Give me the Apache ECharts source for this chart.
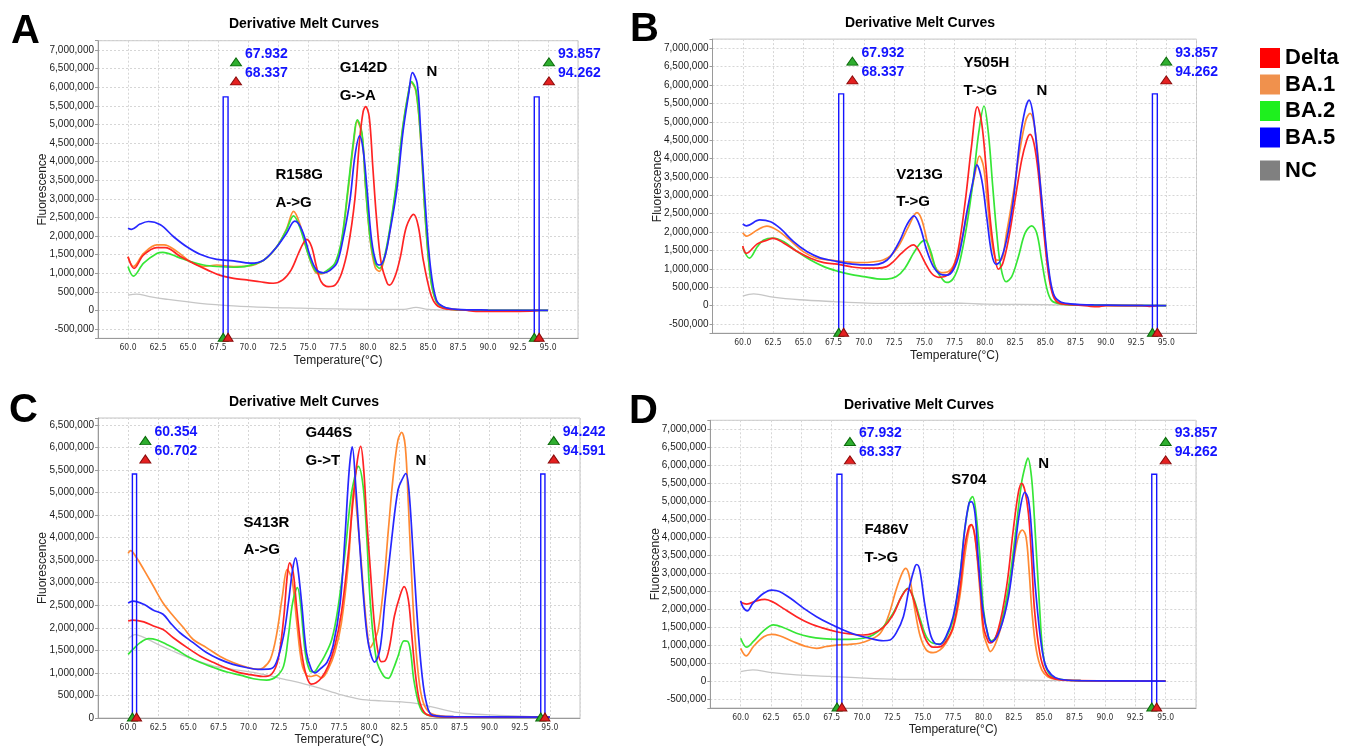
<!DOCTYPE html>
<html><head><meta charset="utf-8">
<script src="https://cdn.jsdelivr.net/npm/echarts@6/dist/echarts.min.js"></script>
<style>html,body{margin:0;padding:0;background:#fff}#c{width:1347px;height:747px}</style>
</head><body><div id="c"></div>
<script>
// ---------- DATA (fluorescence in millions vs temperature °C) ----------
const seriesNames = ['Delta', 'BA.1', 'BA.2', 'BA.5', 'NC'];

// Panel A
const A_Delta = [[60,1.44],[60.5,1.13],[61.3,1.49],[62.4,1.69],[63.1,1.69],[64.4,1.44],[65.6,1.24],[66.6,1.09],[67.7,0.94],[68.8,0.86],[69.9,0.82],[71,0.77],[72.1,0.73],[72.9,0.82],[73.6,1.09],[74.2,1.53],[74.6,1.80],[74.9,1.91],[75.3,1.71],[75.7,1.18],[76.1,0.77],[76.7,0.64],[77.25,0.68],[77.8,1.0],[78.35,1.71],[78.9,2.97],[79.3,4.58],[79.6,5.35],[79.8,5.48],[80.1,5.21],[80.4,3.86],[80.7,2.52],[81.1,1.27],[81.6,0.73],[81.8,0.68],[82.25,0.91],[82.7,1.44],[83.2,2.25],[83.8,2.58],[84.2,2.25],[84.6,1.36],[85.2,0.47],[85.7,0.15],[86.5,0.04],[88,0.01],[89,-0.03],[93.5,-0.02],[94.2,0.0]];
const A_BA1 = [[60,1.44],[60.45,1.18],[61.3,1.53],[62.4,1.76],[63,1.76],[64.1,1.58],[65.2,1.31],[66.3,1.18],[67.4,1.22],[68.8,1.18],[69.9,1.19],[71.3,1.35],[72.4,1.71],[73.2,2.18],[73.8,2.66],[74.3,2.34],[75.0,1.53],[75.6,1.04],[76.1,0.98],[76.7,1.08],[77.25,1.25],[77.8,1.85],[78.35,3.25],[78.8,4.5],[79.1,5.08],[79.5,4.72],[79.8,3.3],[80.2,1.85],[80.6,1.15],[80.95,1.05],[81.3,1.30],[81.8,2.10],[82.4,3.45],[82.9,4.9],[83.4,5.9],[83.6,6.12],[84.0,5.88],[84.4,4.55],[84.75,2.6],[85.2,0.9],[85.7,0.22],[86.5,0.05],[88,0.01],[95,0.0]];
const A_BA2 = [[60,1.18],[60.45,0.92],[61.3,1.27],[62.4,1.53],[62.9,1.56],[64.1,1.44],[65.2,1.31],[66.3,1.22],[67.4,1.18],[68.8,1.16],[69.9,1.19],[71.3,1.35],[72.4,1.71],[73.2,2.16],[73.8,2.54],[74.3,2.25],[75.0,1.53],[75.6,1.07],[76.1,1.0],[76.7,1.10],[77.25,1.27],[77.8,1.89],[78.35,3.33],[78.8,4.58],[79.1,5.12],[79.5,4.76],[79.8,3.33],[80.2,1.89],[80.6,1.27],[80.95,1.13],[81.3,1.35],[81.8,2.16],[82.4,3.51],[82.9,4.94],[83.4,5.92],[83.6,6.15],[84.0,5.92],[84.4,4.58],[84.75,2.61],[85.2,0.91],[85.7,0.24],[86.5,0.06],[88,0.01],[95,0.0]];
const A_BA5 = [[60,2.21],[60.3,2.18],[61,2.32],[61.7,2.39],[62.7,2.30],[63.8,1.98],[64.9,1.71],[66,1.51],[67.4,1.37],[68.8,1.33],[70.2,1.27],[71.3,1.35],[72.4,1.71],[73.2,2.07],[73.9,2.40],[74.5,2.16],[75.2,1.44],[75.7,1.09],[76.3,1.01],[76.8,1.07],[77.4,1.27],[77.9,1.89],[78.5,2.97],[78.9,4.13],[79.3,4.69],[79.6,4.31],[79.9,3.33],[80.3,1.89],[80.7,1.27],[81.0,1.22],[81.4,1.44],[81.8,2.07],[82.4,3.24],[82.9,4.76],[83.4,5.84],[83.7,6.39],[84.1,6.10],[84.4,4.76],[84.75,2.97],[85.2,1.18],[85.7,0.28],[86.3,0.10],[87.4,0.03],[90,0.01],[95,0.0]];
const A_NC = [[60,0.41],[60.7,0.44],[61.8,0.37],[63.2,0.30],[66,0.19],[68.8,0.12],[71.6,0.08],[74.4,0.06],[77.2,0.04],[80,0.03],[83,0.03],[84,0.08],[85,0.03],[88,0.01],[95,0.0]];

// Panel B
const B_Delta = [[60,1.62],[60.3,1.42],[61.2,1.68],[62,1.78],[62.5,1.83],[63.4,1.70],[64.5,1.47],[65.6,1.29],[66.7,1.17],[67.8,1.13],[68.9,1.06],[70,1.02],[71.1,1.02],[71.9,1.06],[72.45,1.20],[73.1,1.42],[73.7,1.59],[74.1,1.65],[74.5,1.53],[75.1,1.15],[75.6,0.88],[76.2,0.77],[76.7,0.79],[77.3,0.97],[77.8,1.51],[78.4,2.87],[78.9,4.32],[79.39,5.41],[79.75,4.96],[80.1,3.78],[80.43,2.42],[80.8,1.42],[81.13,0.99],[81.49,1.15],[81.95,1.78],[82.5,2.87],[83.05,3.96],[83.47,4.50],[83.74,4.66],[84.07,4.41],[84.43,3.60],[84.84,2.15],[85.26,0.88],[85.67,0.25],[86.2,0.06],[87.5,0.02],[88.5,-0.01],[89.3,-0.03],[90,0.0],[93,0.0],[93.6,-0.02],[94.2,0.0]];
const B_BA1 = [[60,1.98],[60.3,1.89],[61.2,2.06],[62,2.16],[62.8,2.06],[63.9,1.78],[65,1.47],[66.1,1.29],[67.2,1.24],[68.3,1.20],[69.4,1.17],[70.5,1.18],[71.6,1.24],[72.3,1.38],[73,1.69],[73.7,2.15],[74.4,2.53],[74.8,2.33],[75.35,1.60],[75.9,1.06],[76.4,0.90],[77,0.93],[77.5,1.15],[78.1,1.78],[78.65,2.69],[79.2,3.60],[79.56,4.07],[79.9,3.78],[80.2,2.87],[80.57,1.78],[80.99,1.24],[81.32,1.24],[81.8,1.97],[82.36,3.05],[82.9,4.23],[83.4,5.05],[83.74,5.23],[84.07,4.96],[84.43,3.96],[84.84,2.33],[85.26,0.97],[85.67,0.29],[86.2,0.08],[88,0.02],[95,0.0]];
const B_BA2 = [[60,1.58],[60.55,1.29],[61.2,1.60],[61.7,1.78],[62.5,1.84],[63.4,1.74],[64.5,1.47],[65.6,1.24],[66.7,1.06],[67.8,0.94],[68.9,0.85],[70,0.79],[71.1,0.73],[71.9,0.72],[72.7,0.79],[73.4,1.02],[74.1,1.42],[74.65,1.69],[75.05,1.78],[75.5,1.51],[76,0.97],[76.6,0.68],[76.85,0.63],[77.4,0.74],[77.9,1.15],[78.5,2.15],[79.05,3.42],[79.5,4.7],[79.94,5.43],[80.3,4.69],[80.66,3.24],[80.99,1.97],[81.32,1.06],[81.76,0.65],[82.23,0.79],[82.78,1.33],[83.33,1.97],[83.88,2.17],[84.3,1.97],[84.7,1.24],[85.1,0.51],[85.5,0.15],[86.2,0.05],[88,0.02],[95,0.0]];
const B_BA5 = [[60,2.22],[60.3,2.17],[61.4,2.33],[62.3,2.28],[63.1,2.10],[64.2,1.74],[65.3,1.47],[66.4,1.30],[67.5,1.22],[68.6,1.15],[69.7,1.11],[70.8,1.11],[71.6,1.17],[72.2,1.33],[73,1.78],[73.55,2.19],[74.15,2.44],[74.65,2.15],[75.2,1.51],[75.75,1.06],[76.3,0.86],[76.85,0.83],[77.4,0.97],[77.9,1.42],[78.5,2.51],[79.05,3.42],[79.34,3.83],[79.75,3.42],[80.16,2.42],[80.57,1.42],[80.93,1.12],[81.26,1.20],[81.8,1.78],[82.36,2.87],[82.9,4.50],[83.33,5.32],[83.66,5.59],[84.0,5.18],[84.4,3.96],[84.84,2.42],[85.26,1.06],[85.67,0.33],[86.2,0.11],[87.05,0.05],[89,0.02],[95,0.0]];
const B_NC = [[60,0.26],[60.9,0.32],[62.5,0.23],[64.7,0.16],[67.5,0.11],[70.3,0.07],[73,0.06],[78,0.07],[80,0.04],[85,0.03],[88,0.01],[95,0.0]];

// Panel C
const C_Delta = [[60,2.15],[60.4,2.17],[61.3,2.13],[62.1,2.04],[62.9,1.96],[63.75,1.78],[64.9,1.56],[66,1.37],[67.1,1.23],[68.2,1.10],[69.3,1.00],[70.4,0.95],[71.2,0.92],[71.9,0.97],[72.45,1.30],[72.9,2.19],[73.2,3.14],[73.4,3.44],[73.7,3.22],[74,2.41],[74.4,1.45],[74.8,0.93],[75.2,0.75],[75.6,0.78],[76.05,0.89],[76.6,1.15],[77.15,1.59],[77.7,2.33],[78.25,3.59],[78.65,4.77],[79,5.66],[79.3,6.02],[79.55,5.51],[79.8,4.40],[80.1,3.29],[80.4,2.19],[80.7,1.52],[81,1.25],[81.3,1.26],[81.7,1.59],[82.1,2.26],[82.55,2.70],[82.9,2.91],[83.25,2.63],[83.5,1.96],[83.8,1.08],[84.15,0.41],[84.6,0.12],[85.3,0.04],[87,0.02],[95,0.02]];
const C_BA1 = [[60,3.65],[60.2,3.71],[60.7,3.55],[61.3,3.29],[62.1,2.92],[62.9,2.55],[63.75,2.26],[64.6,2.00],[65.4,1.74],[66.5,1.56],[67.6,1.37],[68.7,1.23],[69.8,1.13],[70.7,1.08],[71.2,1.11],[71.8,1.30],[72.3,1.82],[72.8,2.70],[73.2,3.29],[73.6,3.07],[74,2.11],[74.4,1.23],[74.8,0.95],[75.2,0.92],[75.6,0.95],[76.05,0.89],[76.6,1.08],[77.15,1.45],[77.7,2.11],[78.3,3.5],[78.55,4.6],[78.75,5.1],[79.0,4.5],[79.3,3.6],[79.6,2.6],[79.85,1.9],[80.07,1.56],[80.4,1.7],[80.75,1.96],[81.2,2.92],[81.6,4.18],[82.0,5.36],[82.4,6.17],[82.7,6.33],[83.0,6.02],[83.25,4.77],[83.5,3.29],[83.8,1.82],[84.2,0.71],[84.6,0.27],[85.3,0.08],[87,0.03],[95,0.02]];
const C_BA2 = [[60,1.41],[60.4,1.52],[61,1.67],[61.7,1.76],[62.4,1.73],[63.2,1.63],[64,1.52],[64.9,1.37],[66,1.23],[67.1,1.12],[68.2,1.02],[69.3,0.95],[70.4,0.87],[71.5,0.84],[72.3,0.92],[72.9,1.15],[73.3,1.82],[73.65,2.55],[74.05,2.89],[74.3,2.55],[74.7,1.45],[75.1,1.04],[75.4,1.02],[75.8,1.15],[76.3,1.37],[76.9,1.74],[77.4,2.41],[78,3.66],[78.5,4.92],[78.95,5.51],[79.1,5.58],[79.5,5.14],[79.8,4.03],[80.1,2.55],[80.6,1.30],[81.2,0.93],[81.6,0.88],[82,1.08],[82.4,1.37],[82.9,1.71],[83.2,1.70],[83.45,1.45],[83.7,0.86],[84.1,0.34],[84.5,0.12],[85.3,0.04],[87,0.02],[95,0.02]];
const C_BA5 = [[60,2.55],[60.4,2.59],[61.3,2.52],[62.1,2.39],[62.9,2.30],[63.5,2.11],[64.3,1.89],[65.4,1.67],[66.5,1.45],[67.6,1.30],[68.7,1.19],[69.8,1.12],[70.8,1.08],[71.8,1.09],[72.3,1.23],[72.9,1.82],[73.3,2.55],[73.65,3.29],[73.9,3.55],[74.1,3.29],[74.4,2.55],[74.8,1.45],[75.2,1.08],[75.5,1.00],[75.9,1.08],[76.5,1.23],[77,1.59],[77.6,2.55],[78,4.03],[78.35,5.51],[78.6,6.01],[78.9,5.1],[79.2,3.9],[79.5,2.8],[79.8,1.9],[80.1,1.45],[80.45,1.24],[80.9,1.52],[81.3,2.55],[81.9,4.03],[82.4,5.06],[82.8,5.32],[83.05,5.42],[83.3,5.06],[83.65,3.66],[84.1,1.82],[84.5,0.71],[84.9,0.19],[85.3,0.06],[87,0.03],[95,0.02]];
const C_NC = [[60,1.76],[60.6,1.85],[61.5,1.76],[62.65,1.61],[63.75,1.48],[65.4,1.30],[67.1,1.15],[68.7,1.08],[70.4,1.01],[71.5,0.95],[72.9,0.86],[74.3,0.78],[75.9,0.66],[77.6,0.52],[79.2,0.42],[81,0.38],[82.5,0.36],[84,0.32],[85.3,0.24],[86.6,0.16],[88,0.10],[90.8,0.06],[93.5,0.03],[95,0.02]];

// Panel D
const D_Delta = [[60,2.19],[60.5,2.14],[61.3,2.23],[62,2.27],[62.7,2.19],[63.5,2.02],[64.6,1.79],[65.7,1.60],[66.8,1.47],[67.9,1.37],[69,1.31],[70.1,1.28],[70.9,1.33],[71.75,1.49],[72.55,1.84],[73.25,2.35],[73.8,2.57],[74.25,2.26],[74.8,1.60],[75.3,1.12],[75.85,0.94],[76.4,0.95],[76.9,1.10],[77.5,1.51],[78.05,2.53],[78.45,3.74],[78.8,4.29],[79,4.35],[79.3,4.01],[79.7,2.72],[80,1.51],[80.4,1.09],[80.6,1.06],[81.2,1.42],[81.9,2.62],[82.45,4.20],[82.86,5.22],[83.13,5.50],[83.4,5.31],[83.7,4.66],[83.95,3.46],[84.2,1.98],[84.64,0.77],[85.1,0.26],[85.7,0.08],[87,0.02],[95,0.0]];
const D_BA1 = [[60,0.91],[60.45,0.70],[61.05,0.96],[61.9,1.23],[62.55,1.30],[63.2,1.26],[64.3,1.10],[65.4,0.96],[66.25,0.91],[67.05,0.96],[67.9,1.0],[69,1.02],[69.8,1.05],[70.6,1.14],[71.5,1.33],[72.15,1.79],[72.8,2.53],[73.3,3.0],[73.6,3.13],[73.9,2.90],[74.35,1.98],[74.8,1.23],[75.3,0.86],[75.85,0.79],[76.4,0.86],[76.9,1.05],[77.5,1.47],[78.05,2.35],[78.45,3.46],[78.8,4.20],[79,4.34],[79.3,4.01],[79.7,2.53],[80,1.33],[80.4,0.91],[80.55,0.82],[81.2,1.23],[81.9,2.16],[82.45,3.27],[82.86,4.01],[83.2,4.20],[83.5,4.01],[83.75,3.09],[84,1.88],[84.35,0.86],[84.8,0.31],[85.3,0.12],[86,0.05],[88,0.01],[95,0.0]];
const D_BA2 = [[60,1.19],[60.5,0.94],[61.05,1.10],[61.9,1.40],[62.7,1.56],[63.5,1.49],[64.6,1.33],[65.7,1.23],[66.8,1.18],[67.9,1.16],[69,1.16],[70.1,1.19],[70.9,1.28],[71.75,1.51],[72.55,1.88],[73.25,2.35],[73.75,2.58],[74.2,2.35],[74.8,1.70],[75.3,1.23],[75.85,1.05],[76.4,1.03],[76.9,1.19],[77.5,1.70],[78.05,2.90],[78.45,4.20],[78.85,4.99],[79.1,5.13],[79.35,4.76],[79.7,3.46],[80,1.98],[80.4,1.23],[80.66,1.12],[81.35,1.51],[82.06,2.62],[82.6,4.01],[83.13,5.50],[83.45,6.0],[83.65,6.2],[83.95,5.68],[84.2,4.48],[84.6,2.16],[84.9,0.77],[85.3,0.26],[86,0.07],[88,0.01],[95,0.0]];
const D_BA5 = [[60,2.23],[60.2,2.05],[60.55,1.95],[61,2.16],[61.9,2.44],[62.55,2.53],[63.2,2.49],[64.1,2.30],[65.2,2.02],[66.25,1.79],[67.35,1.59],[68.45,1.42],[69.55,1.28],[70.6,1.19],[71.75,1.12],[72.3,1.14],[72.8,1.33],[73.4,1.79],[73.9,2.62],[74.35,3.18],[74.5,3.24],[74.75,3.09],[75.15,2.16],[75.6,1.33],[76,1.05],[76.4,1.02],[76.9,1.23],[77.5,1.79],[78.05,2.90],[78.45,4.20],[78.8,4.94],[79,4.99],[79.3,4.66],[79.55,3.46],[79.95,1.98],[80.4,1.23],[80.66,1.09],[81.35,1.42],[82.06,2.35],[82.6,3.74],[83,4.76],[83.4,5.25],[83.7,5.04],[83.95,4.20],[84.2,2.90],[84.64,1.33],[85.05,0.49],[85.6,0.17],[86.3,0.05],[88,0.01],[95,0.0]];
const D_NC = [[60,0.26],[61,0.31],[62.4,0.24],[64.6,0.17],[67.35,0.13],[70.1,0.08],[72.8,0.05],[80,0.04],[85,0.02],[95,0.0]];

// Melt-region markers (start / end temperatures shown by the software)
const A_regions = [['67.932', '68.337'], ['93.857', '94.262']];
const B_regions = [['67.932', '68.337'], ['93.857', '94.262']];
const C_regions = [['60.354', '60.702'], ['94.242', '94.591']];
const D_regions = [['67.932', '68.337'], ['93.857', '94.262']];
// marker bar height (millions) and handle positions (temperature, millions)
const A_barTop = 5.74, B_barTop = 5.76, C_barTop = 5.41, D_barTop = 5.75;
const A_handleT = [69.0, 95.08], B_handleT = [69.06, 95.0], C_handleT = [61.43, 95.32], D_handleT = [69.0, 95.0];
const A_handleV = [6.68, 6.17], B_handleV = [6.65, 6.14], C_handleV = [6.15, 5.74], D_handleV = [6.66, 6.15];

// Annotations: [text, temperature, millions]
const A_notes = [['R158G',72.25,3.64],['A->G',72.25,2.89],['G142D',77.6,6.52],['G->A',77.6,5.76],['N',84.83,6.41]];
const B_notes = [['V213G',72.64,3.55],['T->G',72.64,2.82],['Y505H',78.2,6.60],['T->G',78.2,5.84],['N',84.24,5.84]];
const C_notes = [['S413R',69.54,4.32],['A->G',69.54,3.72],['G446S',74.68,6.32],['G->T',74.68,5.71],['N',83.8,5.69]];
const D_notes = [['F486V',70.15,4.20],['T->G',70.15,3.43],['S704',77.31,5.59],['N',84.47,6.04]];

const panelLetters = ['A', 'B', 'C', 'D'];
const chartTitle = 'Derivative Melt Curves';
const xTickRange = [60, 95];

// ---------- STYLE / LAYOUT ----------
const FONT = "'Liberation Sans', Arial, Helvetica, sans-serif";
const NARROW = "'Liberation Sans Narrow', 'DejaVu Sans Condensed', 'Liberation Sans', sans-serif";
const lineColor = {'Delta':'#ff2424','BA.1':'#ff8a33','BA.2':'#36e636','BA.5':'#2727ff','NC':'#c6c6c6'};
const legendColor = {'Delta':'#ff0000','BA.1':'#f0914d','BA.2':'#1ef01e','BA.5':'#0000ff','NC':'#808080'};
const GREEN = '#2fae2f', RED = '#e42020', MARK_BLUE = '#1414ff';

const panels = [
  {grid:{left:98, top:40.7, width:480, height:297.6}, yMin:-0.75, yMax:7.25, split:16,
   curves:{'Delta':A_Delta,'BA.1':A_BA1,'BA.2':A_BA2,'BA.5':A_BA5,'NC':A_NC},
   regions:A_regions, barTop:A_barTop, handleT:A_handleT, handleV:A_handleV, notes:A_notes,
   titlePos:[304,24], letterPos:[11,32]},
  {grid:{left:712.5, top:39.1, width:484, height:294.1}, yMin:-0.75, yMax:7.25, split:16,
   curves:{'Delta':B_Delta,'BA.1':B_BA1,'BA.2':B_BA2,'BA.5':B_BA5,'NC':B_NC},
   regions:B_regions, barTop:B_barTop, handleT:B_handleT, handleV:B_handleV, notes:B_notes,
   titlePos:[920,23], letterPos:[630,30]},
  {grid:{left:98, top:418, width:482, height:300.7}, yMin:0, yMax:6.65, split:13,
   curves:{'Delta':C_Delta,'BA.1':C_BA1,'BA.2':C_BA2,'BA.5':C_BA5,'NC':C_NC},
   regions:C_regions, barTop:C_barTop, handleT:C_handleT, handleV:C_handleV, notes:C_notes,
   titlePos:[304,402], letterPos:[9,411]},
  {grid:{left:710.3, top:420.3, width:485.7, height:287.7}, yMin:-0.75, yMax:7.25, split:16,
   curves:{'Delta':D_Delta,'BA.1':D_BA1,'BA.2':D_BA2,'BA.5':D_BA5,'NC':D_NC},
   regions:D_regions, barTop:D_barTop, handleT:D_handleT, handleV:D_handleV, notes:D_notes,
   titlePos:[919,405], letterPos:[629,412]}
];

function yLabel(v) {
  const r = Math.round(v * 2);
  if (Math.abs(v * 2 - r) > 1e-6) return '';
  return (r * 500000).toLocaleString('en-US');
}
function xLabel(v) {
  if (v < xTickRange[0] - 1e-6 || v > xTickRange[1] + 1e-6) return '';
  return v.toFixed(1);
}

const grids = [], xAxes = [], yAxes = [], series = [], graphics = [];
const drawOrder = ['NC', 'BA.1', 'BA.2', 'Delta', 'BA.5'];

panels.forEach((p, i) => {
  grids.push(Object.assign({show:true, borderColor:'#c4c4c4', borderWidth:1, containLabel:false}, p.grid));
  xAxes.push({
    type:'value', gridIndex:i, min:57.5, max:97.5, interval:2.5,
    name:'Temperature(°C)', nameLocation:'middle', nameGap:16, nameMoveOverlap:false,
    nameTextStyle:{fontFamily:FONT, fontSize:12, color:'#222'},
    axisLine:{show:true, onZero:false, lineStyle:{color:'#9a9a9a'}},
    axisTick:{show:false},
    axisLabel:{formatter:xLabel, fontFamily:NARROW, fontSize:8.5, color:'#333', margin:5},
    splitLine:{show:true, lineStyle:{color:'#d6d6d6', type:[2,2], width:1}}
  });
  yAxes.push({
    type:'value', gridIndex:i, min:p.yMin, max:p.yMax, splitNumber:p.split,
    name:'Fluorescence', nameLocation:'middle', nameGap:49, nameMoveOverlap:false,
    nameTextStyle:{fontFamily:FONT, fontSize:12, color:'#222'},
    axisLine:{show:true, lineStyle:{color:'#9a9a9a'}},
    axisTick:{show:true, length:3, lineStyle:{color:'#9a9a9a'}},
    axisLabel:{formatter:yLabel, fontFamily:FONT, fontSize:10, color:'#1a1a1a', margin:4},
    splitLine:{show:true, lineStyle:{color:'#d6d6d6', type:[2,2], width:1}}
  });

  drawOrder.forEach(name => {
    series.push({
      name, type:'line', xAxisIndex:i, yAxisIndex:i, data:p.curves[name],
      showSymbol:false, symbol:'none', smooth:0.35, silent:true,
      color: lineColor[name],
      lineStyle:{color:lineColor[name], width: name === 'NC' ? 1.3 : 1.7},
      z: 3
    });
  });

  // melt-region bars
  series.push({
    type:'custom', xAxisIndex:i, yAxisIndex:i, silent:true, z:6, clip:false,
    encode:{x:[0,1], y:2},
    data: p.regions.map(r => [parseFloat(r[0]), parseFloat(r[1]), p.barTop]),
    renderItem: (params, api) => {
      const a = api.coord([api.value(0), api.value(2)]);
      const b = api.coord([api.value(1), p.yMin]);
      return {type:'rect', shape:{x:a[0], y:a[1], width:b[0]-a[0], height:b[1]-a[1]},
              style:{fill:'none', stroke:MARK_BLUE, lineWidth:1.4}};
    }
  });

  // handles with temperature labels (top)
  const topHandles = [];
  p.regions.forEach((r, s) => {
    topHandles.push({value:[p.handleT[s], p.handleV[0], r[0]], itemStyle:{color:GREEN, borderColor:'#0b6b0b'}});
    topHandles.push({value:[p.handleT[s], p.handleV[1], r[1]], itemStyle:{color:RED, borderColor:'#8a0c0c'}});
  });
  series.push({
    type:'scatter', xAxisIndex:i, yAxisIndex:i, silent:true, z:7, clip:false,
    symbol:'triangle', symbolSize:[11,8], itemStyle:{borderWidth:1, opacity:1},
    emphasis:{disabled:true},
    data: topHandles,
    label:{show:true, position:'right', distance:3, offset:[0,-8],
           formatter: d => d.value[2], fontFamily:FONT, fontSize:14, fontWeight:'bold', color:MARK_BLUE}
  });
  // handles on the x axis (bottom)
  const botHandles = [];
  p.regions.forEach(r => {
    botHandles.push({value:[parseFloat(r[0]), p.yMin], itemStyle:{color:GREEN, borderColor:'#0b6b0b'}});
    botHandles.push({value:[parseFloat(r[1]), p.yMin], itemStyle:{color:RED, borderColor:'#8a0c0c'}});
  });
  series.push({
    type:'scatter', xAxisIndex:i, yAxisIndex:i, silent:true, z:8, clip:false,
    symbol:'triangle', symbolSize:[10,8], symbolOffset:[0,-1], itemStyle:{borderWidth:1, opacity:1},
    emphasis:{disabled:true},
    data: botHandles
  });
  // mutation annotations
  series.push({
    type:'scatter', xAxisIndex:i, yAxisIndex:i, silent:true, z:9, clip:false,
    symbolSize:1, itemStyle:{color:'rgba(0,0,0,0)', opacity:1},
    emphasis:{disabled:true},
    data: p.notes.map(n => ({value:[n[1], n[2]], name:n[0]})),
    label:{show:true, position:'right', distance:0, formatter: d => d.name,
           fontFamily:FONT, fontSize:15, fontWeight:'bold', color:'#000'}
  });

  graphics.push({type:'text', x:p.titlePos[0], y:p.titlePos[1], silent:true,
    style:{text:chartTitle, font:'bold 14px ' + FONT, fill:'#000', align:'center', verticalAlign:'middle', textAlign:'center', textVerticalAlign:'middle'}});
  graphics.push({type:'text', x:p.letterPos[0], y:p.letterPos[1], silent:true,
    style:{text:panelLetters[i], font:'bold 40px ' + FONT, fill:'#000', align:'left', verticalAlign:'middle', textAlign:'left', textVerticalAlign:'middle'}});
});

const legendText = {fontFamily:FONT, fontSize:22, fontWeight:'bold', color:'#000', lineHeight:22};
const option = {
  animation:false,
  backgroundColor:'#fff',
  grid:grids, xAxis:xAxes, yAxis:yAxes, series,
  graphic: graphics,
  legend:[
    {data: seriesNames.slice(0,4).map(n => ({name:n, itemStyle:{color:legendColor[n], borderWidth:0}})),
     orient:'vertical', left:1255, top:42, itemWidth:20, itemHeight:20, itemGap:4.5, icon:'rect',
     selectedMode:false, textStyle:legendText},
    {data: [{name:'NC', itemStyle:{color:legendColor['NC'], borderWidth:0}}],
     orient:'vertical', left:1255, top:154.5, itemWidth:20, itemHeight:20, icon:'rect',
     selectedMode:false, textStyle:legendText}
  ]
};
const chart = echarts.init(document.getElementById('c'), null, {renderer:'canvas'});
chart.setOption(option);
</script>
</body></html>
